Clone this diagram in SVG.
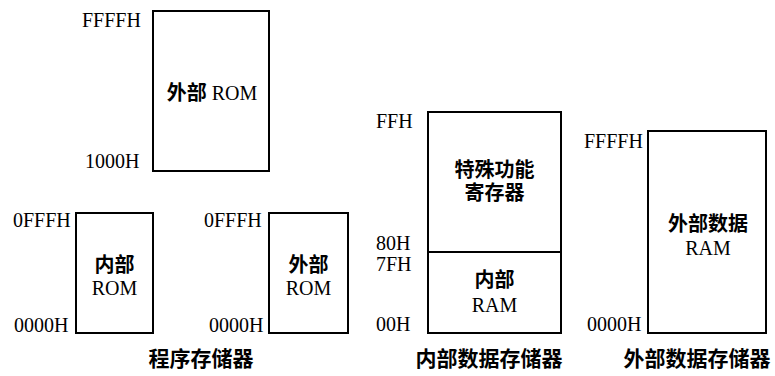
<svg xmlns="http://www.w3.org/2000/svg" width="775" height="376" viewBox="0 0 775 376">
<style>
.box{fill:#fff;stroke:#000;stroke-width:2}
.addr{font-family:"Liberation Serif","Times New Roman",serif;font-size:20px;fill:#000}
.lat{font-family:"Liberation Serif","Times New Roman",serif;font-size:20px;font-weight:normal}
.cjk{font-family:"Noto Sans CJK SC","Noto Sans CJK TC",sans-serif;font-size:20px;font-weight:bold}
.lbl{fill:#000;text-anchor:middle}
.title{font-family:"Noto Sans CJK SC","Noto Sans CJK TC",sans-serif;font-size:21px;font-weight:bold;fill:#000;text-anchor:middle}
</style>
<rect width="775" height="376" fill="#fff"/>
<g id="ext-rom-64k">
<rect class="box" x="153" y="11" width="116" height="160"/>
<text class="lbl" x="212" y="100"><tspan class="cjk">外部</tspan><tspan class="lat"> ROM</tspan></text>
<text class="addr" x="82" y="27">FFFFH</text>
<text class="addr" x="85" y="168">1000H</text>
</g>
<g id="int-rom">
<rect class="box" x="76" y="213" width="77" height="120"/>
<text class="lbl" x="114.5" y="272"><tspan class="cjk">内部</tspan><tspan class="lat" x="114.5" y="295">ROM</tspan></text>
<text class="addr" x="13" y="227">0FFFH</text>
<text class="addr" x="14" y="332">0000H</text>
</g>
<g id="ext-rom-4k">
<rect class="box" x="269" y="213" width="79" height="120"/>
<text class="lbl" x="308.5" y="272"><tspan class="cjk">外部</tspan><tspan class="lat" x="308.5" y="295">ROM</tspan></text>
<text class="addr" x="204" y="227">0FFFH</text>
<text class="addr" x="209" y="332">0000H</text>
</g>
<text class="title" x="201" y="366">程序存储器</text>
<g id="int-data-mem">
<rect class="box" x="428" y="112" width="133" height="221"/>
<line x1="428" y1="252" x2="561" y2="252" stroke="#000" stroke-width="2"/>
<text class="lbl cjk" x="494.5" y="177">特殊功能<tspan x="494.5" y="200">寄存器</tspan></text>
<text class="lbl" x="494.5" y="287"><tspan class="cjk">内部</tspan><tspan class="lat" x="494.5" y="312">RAM</tspan></text>
<text class="addr" x="376" y="128">FFH</text>
<text class="addr" x="376" y="250">80H</text>
<text class="addr" x="376" y="271">7FH</text>
<text class="addr" x="376" y="331">00H</text>
</g>
<text class="title" x="489" y="366">内部数据存储器</text>
<g id="ext-data-mem">
<rect class="box" x="648" y="131" width="118" height="202"/>
<text class="lbl" x="708" y="231"><tspan class="cjk">外部数据</tspan><tspan class="lat" x="708" y="255">RAM</tspan></text>
<text class="addr" x="584" y="148">FFFFH</text>
<text class="addr" x="587" y="331">0000H</text>
</g>
<text class="title" x="697" y="366">外部数据存储器</text>
</svg>
